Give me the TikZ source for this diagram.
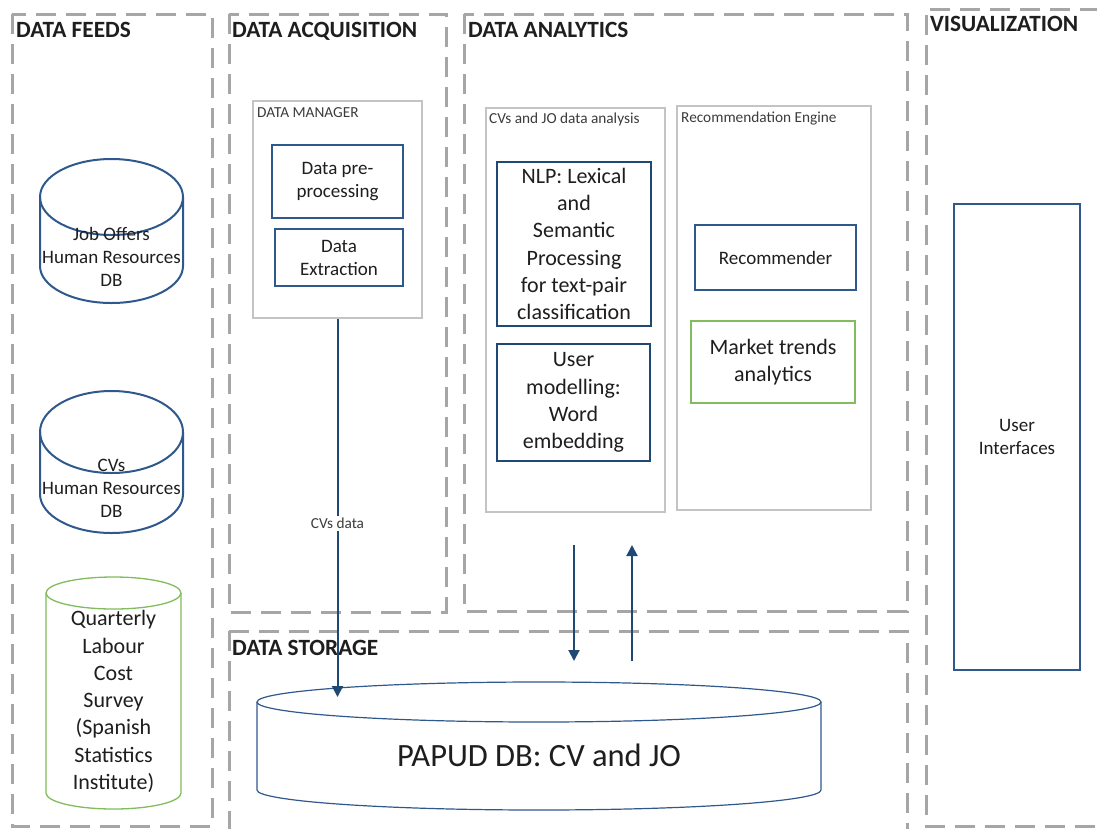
\documentclass[tikz,border=0pt]{standalone}
\usepackage{fontspec}
\setmainfont{Carlito}
\usetikzlibrary{arrows.meta}
\definecolor{dashgray}{RGB}{166,166,166}
\definecolor{boxgray}{RGB}{196,196,196}
\definecolor{dbblue}{RGB}{47,88,140}
\definecolor{navy}{RGB}{31,73,116}
\definecolor{leaf}{RGB}{130,188,92}
\definecolor{ink}{RGB}{30,30,30}
\definecolor{softink}{RGB}{60,60,60}
\begin{document}
\begin{tikzpicture}[x=1pt,y=1pt,
  zone/.style={draw=dashgray, line width=3pt, dash pattern=on 20pt off 10pt},
  zonetitle/.style={anchor=base west, inner sep=0pt, text=ink, font=\bfseries\fontsize{23.3}{27}\selectfont},
  panel/.style={draw=boxgray, line width=2.5pt, inner sep=0pt},
  paneltitle/.style={anchor=base west, inner sep=0pt, text=softink, font=\fontsize{15.3}{18}\selectfont},
  bluebox/.style={draw=dbblue, line width=2pt, align=center, text=ink, inner sep=0pt},
  navybox/.style={draw=navy, line width=2.2pt, align=center, text=ink, inner sep=0pt, font=\fontsize{22}{27.3}\selectfont},
  greenbox/.style={draw=leaf, line width=1.3pt, align=center, text=ink, inner sep=0pt, font=\fontsize{22}{27.3}\selectfont},
  midtext/.style={font=\fontsize{19}{23}\selectfont},
  dbline/.style={draw=dbblue, line width=2pt},
  flow/.style={draw=navy, line width=2pt, -{Triangle[length=11pt,width=11pt]}},
  cyltext/.style={align=center, text=ink, inner sep=0pt}
]
\fill[white] (0,0) rectangle (1097,-828);
\useasboundingbox (0,0) rectangle (1097,-828);

% ---- dashed zones ----
\draw[zone] (12,-14) rectangle (212,-826);
\draw[zone] (229,-14) rectangle (446,-612);
\draw[zone] (464,-14) rectangle (907,-611);
\draw[zone] (229,-631) -- (907,-631) -- (907,-832);
\draw[zone] (229,-631) -- (229,-832);
\draw[zone] (1100,-9) -- (926,-9) -- (926,-826) -- (1100,-826);

\node[zonetitle] (tfeeds) at (16,-37) {DATA FEEDS};
\node[zonetitle] (tacq) at (232,-37) {DATA ACQUISITION};
\node[zonetitle] (tana) at (468,-37) {DATA ANALYTICS};
\node[zonetitle] (tvis) at (930,-31) {VISUALIZATION};
\node[zonetitle] (tsto) at (232,-655) {DATA STORAGE};

% ---- data feeds: databases ----
\draw[dbline] (111.5,-197) ellipse[x radius=71.5, y radius=38];
\draw[dbline] (40,-197) -- (40,-266) arc[start angle=180, end angle=360, x radius=71.5, y radius=37] -- (183,-197);
\node[cyltext, font=\fontsize{19}{23}\selectfont] (jodb) at (111.5,-257) {Job Offers\\Human Resources\\DB};

\draw[dbline] (111.5,-432) ellipse[x radius=71.5, y radius=41];
\draw[dbline] (40,-432) -- (40,-494) arc[start angle=180, end angle=360, x radius=71.5, y radius=39] -- (183,-432);
\node[cyltext, font=\fontsize{19}{23}\selectfont] (cvdb) at (111.5,-488) {CVs\\Human Resources\\DB};

\draw[draw=leaf, line width=1.3pt] (113.5,-593) ellipse[x radius=67.5, y radius=16];
\draw[draw=leaf, line width=1.3pt] (46,-593) -- (46,-793) arc[start angle=180, end angle=360, x radius=67.5, y radius=16] -- (181,-593);
\node[cyltext, font=\fontsize{22}{27.3}\selectfont] (ine) at (113.5,-701.5) {Quarterly\\Labour\\Cost\\Survey\\(Spanish\\Statistics\\Institute)};

% ---- data acquisition ----
\node[panel, minimum width=169, minimum height=217] (dm) at (337.5,-209.5) {};
\node[paneltitle] (dmt) at (257,-117) {DATA MANAGER};
\node[bluebox, midtext, minimum width=131, minimum height=73] (prep) at (337.5,-181.5) {Data pre-\\processing};
\node[bluebox, midtext, minimum width=128, minimum height=57] (extr) at (339,-257.5) {Data\\Extraction};

% ---- data analytics ----
\node[panel, minimum width=179, minimum height=404] (cvjo) at (575.5,-310) {};
\node[paneltitle] (cvjot) at (489,-123) {CVs and JO data analysis};
\node[panel, minimum width=194, minimum height=404] (reng) at (774,-308) {};
\node[paneltitle] (rengt) at (681,-122) {Recommendation Engine};

\node[navybox, minimum width=154, minimum height=164] (nlp) at (574,-244) {NLP: Lexical\\and\\Semantic\\Processing\\for text-pair\\classification};
\node[navybox, minimum width=153, minimum height=117] (umod) at (573.5,-402.5) {User\\modelling:\\Word\\embedding};
\node[bluebox, midtext, minimum width=161, minimum height=65] (recm) at (775.5,-257.5) {Recommender};
\node[greenbox, minimum width=164, minimum height=82] (mkt) at (773,-362) {Market trends\\analytics};

% ---- visualization ----
\node[bluebox, midtext, minimum width=126, minimum height=466] (ui) at (1017,-437) {User\\Interfaces};

% ---- data storage ----
\draw[draw=dbblue, line width=1.2pt] (539,-702) ellipse[x radius=282, y radius=20];
\draw[draw=dbblue, line width=1.2pt] (257,-702) -- (257,-790) arc[start angle=180, end angle=360, x radius=282, y radius=20] -- (821,-702);
\node[cyltext, font=\fontsize{32.5}{38}\selectfont] (papud) at (539,-755) {PAPUD DB: CV and JO};
\coordinate (papudin) at (337.5,-697);

% ---- flows ----
\draw[flow] (dm.south) -- node[pos=0.54, fill=white, inner sep=2pt, text=softink, font=\fontsize{15.3}{18}\selectfont] (cvlbl) {CVs data} (papudin);
\coordinate (downtop) at (574,-545);
\coordinate (downbot) at (574,-661);
\coordinate (uptop) at (632,-545);
\coordinate (upbot) at (632,-661);
\draw[flow] (downtop) -- (downbot);
\draw[flow] (upbot) -- (uptop);
\end{tikzpicture}
\end{document}
